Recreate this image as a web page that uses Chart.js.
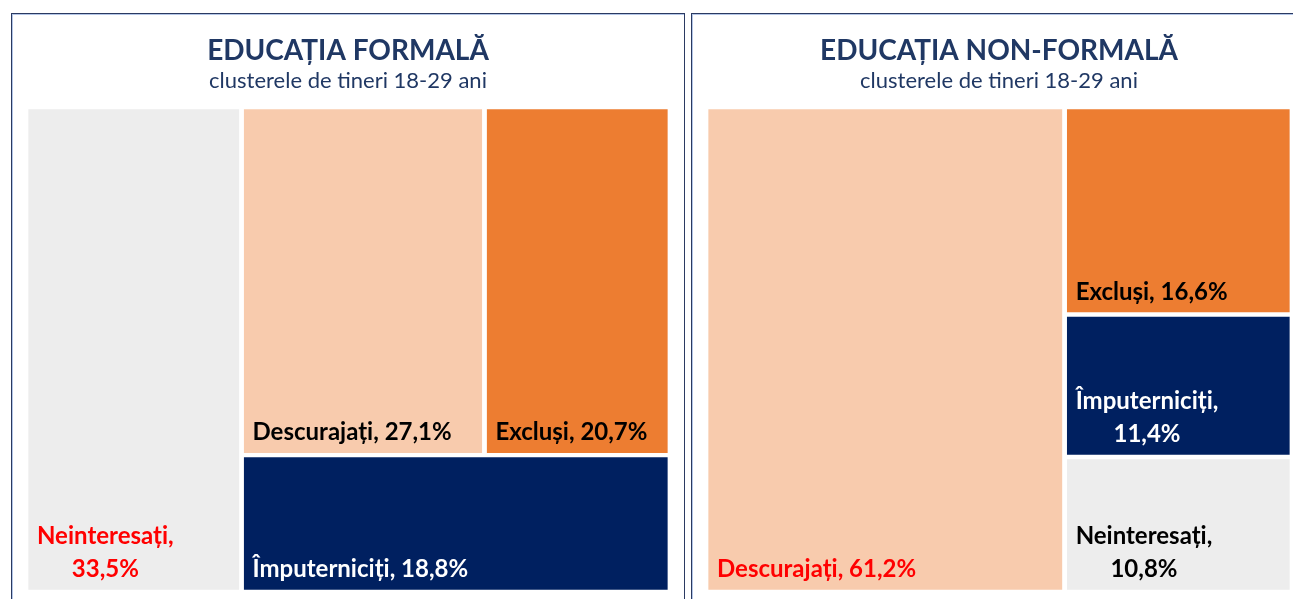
<!DOCTYPE html>
<html lang="ro">
<head>
<meta charset="utf-8">
<title>Educația formală și non-formală</title>
<script src="https://cdn.jsdelivr.net/npm/chart.js@4.4.1/dist/chart.umd.min.js"></script>
<style>
  html, body { margin: 0; padding: 0; background: #fff; overflow: hidden; }
  body { width: 1293px; height: 599px; position: relative; font-family: Lato, sans-serif; }
  .panel { position: absolute; border: 1px solid #2b3a62; box-shadow: inset 1px 1px 0 #b4c6e7; }
  #panel-formal { left: 11px; top: 13px; width: 672px; height: 620px; }
  #panel-nonformal { left: 691px; top: 13px; width: 640px; height: 620px; }
  canvas { position: absolute; }
  #formal { left: 12px; top: 14px; }
  #nonformal { left: 692px; top: 14px; }
</style>
</head>
<body>
<div class="panel" id="panel-formal"></div>
<div class="panel" id="panel-nonformal"></div>
<canvas id="formal" width="672" height="590"></canvas>
<canvas id="nonformal" width="610" height="590"></canvas>
<script>
// values (%), largest first
const formalLabels = ["Neinteresați", "Descurajați", "Excluși", "Împuterniciți"];
const formalValues = [33.5, 27.1, 20.7, 18.8];
const nonFormalLabels = ["Descurajați", "Excluși", "Împuterniciți", "Neinteresați"];
const nonFormalValues = [61.2, 16.6, 11.4, 10.8];

const cellColors = {
  "Neinteresați": "#ededed",
  "Descurajați": "#f8cbad",
  "Excluși": "#ed7d31",
  "Împuterniciți": "#002060",
};
const navy = "#203864";
const GAP = 2.2; // px, white space round every cell
const TOP = 92; // px taken by title + subtitle

// aspect ratio of a row of cells laid along a side
function worst(row, side, scale) {
  const s = row.reduce((a, d) => a + d.value, 0) * scale;
  const t = s / side;
  let w = 0;
  row.forEach((d) => {
    const l = (d.value * scale) / t;
    w = Math.max(w, t / l, l / t);
  });
  return w;
}

// squarified layout; like Excel, the biggest item gets its own strip first
function treemap(items, w, h) {
  const cells = [];
  let rest = items.slice();
  let x = 0, y = 0, first = true;
  while (rest.length) {
    const total = rest.reduce((a, d) => a + d.value, 0);
    const scale = (w * h) / total;
    const vertical = w >= h; // strip is a column
    const side = vertical ? h : w;
    let row = [rest[0]];
    if (!first) {
      while (row.length < rest.length) {
        const next = rest.slice(0, row.length + 1);
        if (worst(next, side, scale) > worst(row, side, scale)) break;
        row = next;
      }
    }
    first = false;
    const rowSum = row.reduce((a, d) => a + d.value, 0);
    const t = (rowSum * scale) / side;
    let pos = vertical ? y : x;
    row.forEach((d) => {
      const l = (d.value * scale) / t;
      if (vertical) cells.push({ ...d, x0: x, x1: x + t, y0: pos, y1: pos + l });
      else cells.push({ ...d, x0: pos, x1: pos + l, y0: y, y1: y + t });
      pos += l;
    });
    if (vertical) { x += t; w -= t; } else { y += t; h -= t; }
    rest = rest.slice(row.length);
  }
  return cells;
}

const fmt = (v) => v.toFixed(1).replace(".", ",") + "%";

function labelPlugin(cells) {
  return {
    id: "cellLabels",
    afterDatasetsDraw(chart) {
      const { ctx, scales } = chart;
      const pad = 11, lineGap = 33;
      ctx.save();
      ctx.font = "bold 24px Lato";
      ctx.textBaseline = "alphabetic";
      ctx.textAlign = "center";
      cells.forEach((c, i) => {
        const left = scales.x.getPixelForValue(c.x0);
        const right = scales.x.getPixelForValue(c.x1);
        const bottom = scales.y.getPixelForValue(c.y1);
        const full = c.name + ", " + fmt(c.value);
        let lines = [full];
        if (ctx.measureText(full).width > right - left - 2 * pad) {
          lines = [c.name + ",", fmt(c.value)];
        }
        const widest = Math.max(...lines.map((s) => ctx.measureText(s).width));
        const cx = left + pad + widest / 2;
        ctx.fillStyle = i === 0 ? "#ff0000" : c.name === "Împuterniciți" ? "#ffffff" : "#000000";
        lines.forEach((s, k) => {
          ctx.fillText(s, cx, bottom - 15 - (lines.length - 1 - k) * lineGap);
        });
      });
      ctx.restore();
    },
  };
}

function makeChart(id, title, names, values, pad) {
  const canvas = document.getElementById(id);
  const plotW = canvas.width - pad.left - pad.right;
  const plotH = canvas.height - TOP - pad.bottom;
  const unit = plotH / 100; // px per unit, same on both axes
  const W = plotW / unit;
  const g = GAP / unit;
  const cells = treemap(names.map((n, i) => ({ name: n, value: values[i] })), W, 100);

  const datasets = cells.map((c) => ({
    label: c.name,
    data: [{ x: c.x0 + g, y: c.y0 + g }, { x: c.x1 - g, y: c.y0 + g }],
    fill: { value: c.y1 - g },
    backgroundColor: cellColors[c.name],
    borderWidth: 0,
    pointRadius: 0,
    tension: 0,
  }));

  return new Chart(canvas, {
    type: "line",
    data: { datasets },
    options: {
      responsive: false,
      animation: false,
      events: [],
      layout: { padding: { left: pad.left, right: pad.right, top: 0, bottom: pad.bottom } },
      scales: {
        x: { type: "linear", min: 0, max: W, display: false },
        y: { type: "linear", min: 0, max: 100, reverse: true, display: false },
      },
      plugins: {
        legend: { display: false },
        tooltip: { enabled: false },
        title: {
          display: true,
          text: title,
          color: navy,
          font: { family: "Lato", size: 28, weight: "bold", lineHeight: 1.1 },
          padding: { top: 22, bottom: 0 },
        },
        subtitle: {
          display: true,
          text: "clusterele de tineri 18-29 ani",
          color: navy,
          font: { family: "Lato", size: 22, weight: "normal", lineHeight: 1.2 },
          padding: { top: 1, bottom: 12.8 },
        },
      },
    },
    plugins: [labelPlugin(cells)],
  });
}

makeChart("formal", "EDUCAȚIA FORMALĂ", formalLabels, formalValues, { left: 14, right: 14, bottom: 12 });
makeChart("nonformal", "EDUCAȚIA NON-FORMALĂ", nonFormalLabels, nonFormalValues, { left: 14, right: 10, bottom: 12 });
</script>
</body>
</html>
